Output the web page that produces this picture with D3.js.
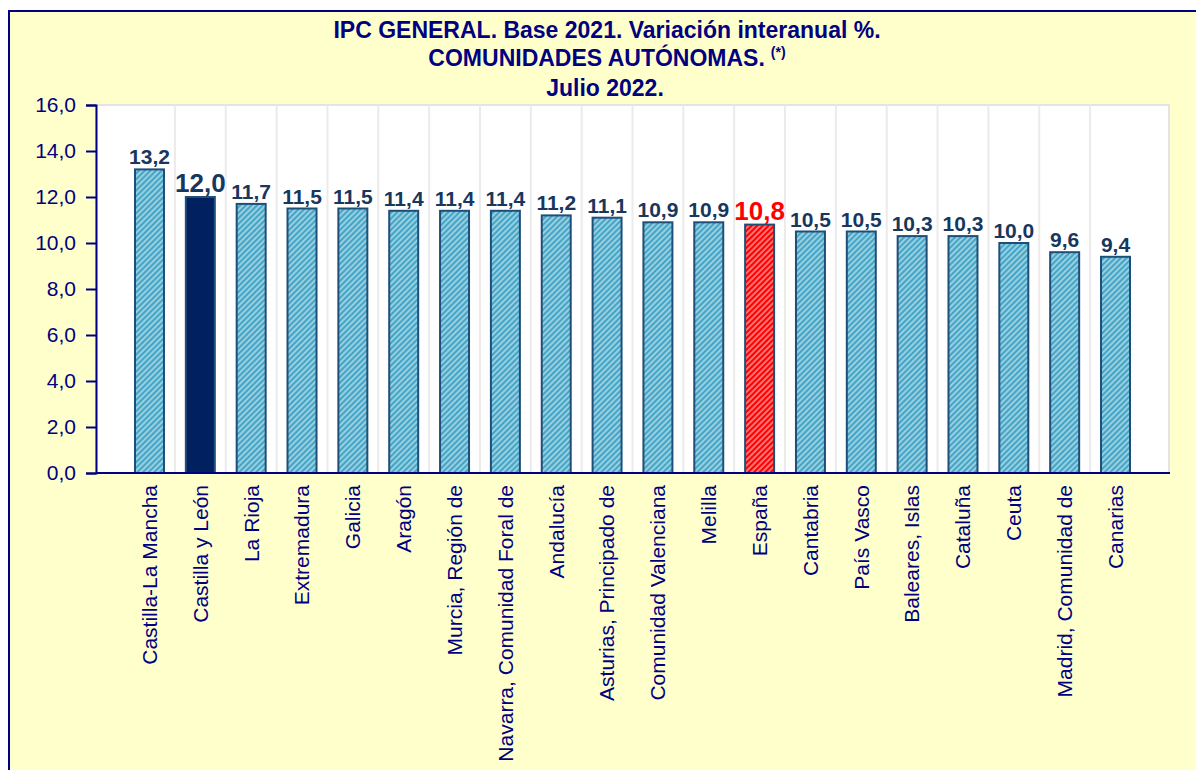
<!DOCTYPE html>
<html>
<head>
<meta charset="utf-8">
<script src="https://cdn.jsdelivr.net/npm/d3@7"></script>
<style>
  body { margin: 0; background: #fff; }
  text { font-family: Arial, "Liberation Sans", sans-serif; }
</style>
</head>
<body>
<script>
var categories = ['Castilla-La Mancha', 'Castilla y León', 'La Rioja', 'Extremadura', 'Galicia',
  'Aragón', 'Murcia, Región de', 'Navarra, Comunidad Foral de', 'Andalucía',
  'Asturias, Principado de', 'Comunidad Valenciana', 'Melilla', 'España', 'Cantabria',
  'País Vasco', 'Baleares, Islas', 'Cataluña', 'Ceuta', 'Madrid, Comunidad de', 'Canarias'];
var values = [13.2, 12.0, 11.7, 11.5, 11.5, 11.4, 11.4, 11.4, 11.2, 11.1,
  10.9, 10.9, 10.8, 10.5, 10.5, 10.3, 10.3, 10.0, 9.6, 9.4];
var yTicks = [0, 2, 4, 6, 8, 10, 12, 14, 16];
var titleLines = ['IPC GENERAL. Base 2021. Variación interanual %.', 'COMUNIDADES AUTÓNOMAS.', 'Julio 2022.'];

var W = 1196, H = 770;
var plot = {left: 96, right: 1169, top: 105, bottom: 473};

var locale = d3.formatLocale({decimal: ',', thousands: '.', grouping: [3], currency: ['', '€']});
var fmt = locale.format('.1f');

var svg = d3.select('body').append('svg')
    .attr('width', W)
    .attr('height', H);

var defs = svg.append('defs');
function hatch(id, base) {
  var p = defs.append('pattern')
      .attr('id', id)
      .attr('patternUnits', 'userSpaceOnUse')
      .attr('width', 4)
      .attr('height', 4)
      .attr('patternTransform', 'rotate(45)');
  p.append('rect').attr('width', 4).attr('height', 4).attr('fill', base);
  p.append('line')
      .attr('x1', 1).attr('y1', 0).attr('x2', 1).attr('y2', 4)
      .attr('stroke', '#fff').attr('stroke-opacity', 0.7).attr('stroke-width', 1.3);
}
hatch('hatchBlue', '#43a6c6');
hatch('hatchRed', '#ff0000');

// background and frame
svg.append('rect').attr('x', 9).attr('y', 11).attr('width', W).attr('height', H).attr('fill', '#ffffcc');
svg.append('line').attr('x1', 8).attr('x2', W).attr('y1', 11).attr('y2', 11)
    .attr('stroke', '#000080').attr('stroke-width', 2);
svg.append('line').attr('x1', 9).attr('x2', 9).attr('y1', 10).attr('y2', H)
    .attr('stroke', '#000080').attr('stroke-width', 2);

var x = d3.scaleBand()
    .domain(categories)
    .range([plot.left, plot.right])
    .paddingInner(0.43)
    .paddingOuter(0.767);

var y = d3.scaleLinear()
    .domain([0, 16])
    .range([plot.bottom, plot.top]);

// plot area
svg.append('rect')
    .attr('x', plot.left).attr('y', plot.top)
    .attr('width', plot.right - plot.left).attr('height', plot.bottom - plot.top)
    .attr('fill', '#fff')
    .attr('stroke', '#e4e4e4')
    .attr('stroke-width', 2);

// vertical gridlines between categories
svg.append('g')
    .selectAll('line')
    .data(categories.slice(0, -1))
    .enter().append('line')
    .attr('x1', function(d) { return x(d) + x.bandwidth() / 2 + x.step() / 2; })
    .attr('x2', function(d) { return x(d) + x.bandwidth() / 2 + x.step() / 2; })
    .attr('y1', plot.top)
    .attr('y2', plot.bottom)
    .attr('stroke', '#ebebeb')
    .attr('stroke-width', 2);

// bars
svg.append('g')
    .selectAll('rect')
    .data(categories)
    .enter().append('rect')
    .attr('x', function(d) { return x(d); })
    .attr('y', function(d, i) { return y(values[i]); })
    .attr('width', x.bandwidth())
    .attr('height', function(d, i) { return y(0) - y(values[i]); })
    .attr('fill', function(d) {
      if (d === 'Castilla y León') return '#002060';
      if (d === 'España') return 'url(#hatchRed)';
      return 'url(#hatchBlue)';
    })
    .attr('stroke', '#1f4e79')
    .attr('stroke-width', 2);

// value labels
svg.append('g')
    .selectAll('text')
    .data(categories)
    .enter().append('text')
    .attr('x', function(d) { return x(d) + x.bandwidth() / 2; })
    .attr('y', function(d, i) { return y(values[i]) - 5; })
    .attr('text-anchor', 'middle')
    .attr('font-weight', 'bold')
    .attr('font-size', function(d) { return (d === 'Castilla y León' || d === 'España') ? '26px' : '21px'; })
    .attr('fill', function(d) { return d === 'España' ? '#ff0000' : '#17375e'; })
    .text(function(d, i) { return fmt(values[i]); });

// y axis
var yAxis = d3.axisLeft(y)
    .tickValues(yTicks)
    .tickFormat(fmt)
    .tickSize(10)
    .tickPadding(10);

var gy = svg.append('g')
    .attr('transform', 'translate(' + plot.left + ',0)')
    .call(yAxis);
gy.select('.domain').attr('stroke', '#000080').attr('stroke-width', 2);
gy.selectAll('.tick line').attr('stroke', '#000080').attr('stroke-width', 2);
gy.selectAll('.tick text')
    .attr('font-family', 'Arial, "Liberation Sans", sans-serif')
    .attr('font-size', '21px')
    .attr('fill', '#000080');

// x axis line
svg.append('line')
    .attr('x1', plot.left).attr('x2', plot.right + 1)
    .attr('y1', plot.bottom).attr('y2', plot.bottom)
    .attr('stroke', '#000080')
    .attr('stroke-width', 2);

// category labels
svg.append('g')
    .selectAll('text')
    .data(categories)
    .enter().append('text')
    .attr('transform', function(d) {
      return 'translate(' + (x(d) + x.bandwidth() / 2) + ',' + (plot.bottom + 12) + ') rotate(-90)';
    })
    .attr('dy', '0.35em')
    .attr('text-anchor', 'end')
    .attr('font-size', '21px')
    .attr('fill', '#000080')
    .text(function(d) { return d; });

// title
var title = svg.append('g')
    .attr('font-weight', 'bold')
    .attr('font-size', '23px')
    .attr('fill', '#000080')
    .attr('text-anchor', 'middle');

title.append('text').attr('x', 607).attr('y', 38).text(titleLines[0]);
var t2 = title.append('text').attr('x', 607).attr('y', 66);
t2.append('tspan').text(titleLines[1]);
t2.append('tspan').attr('font-size', '14px').attr('dx', 6).attr('dy', -9).text('(*)');
title.append('text').attr('x', 605).attr('y', 96).text(titleLines[2]);
</script>
</body>
</html>
